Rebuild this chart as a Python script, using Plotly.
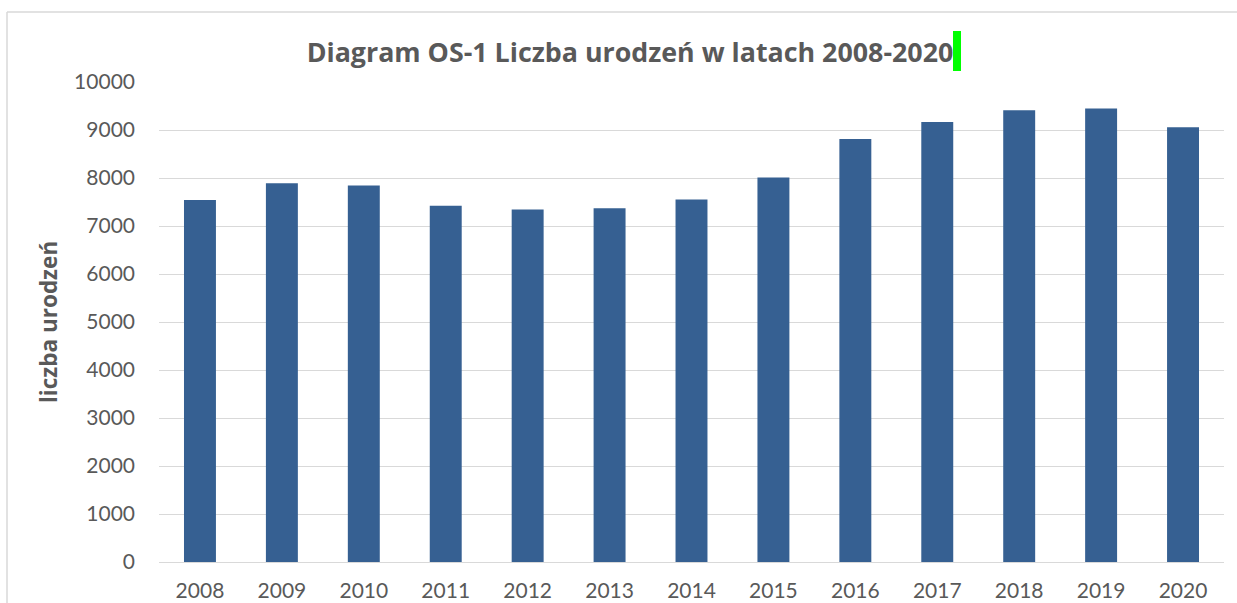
import plotly.graph_objects as go

years = ["2008", "2009", "2010", "2011", "2012", "2013", "2014",
         "2015", "2016", "2017", "2018", "2019", "2020"]
births = [7540, 7890, 7845, 7420, 7345, 7370, 7550,
          8010, 8810, 9165, 9410, 9450, 9055]
y_ticks = [0, 1000, 2000, 3000, 4000, 5000, 6000, 7000, 8000, 9000, 10000]

title_text = "Diagram OS-1 Liczba urodzeń w latach 2008-2020"
y_title = "liczba urodzeń"

W, H = 1237, 603
L, R, T, B = 159, 13, 82, 41
TICKFONT = "Lato"
BOLDFONT = "Open Sans"
GRAY = "#595959"
BAR = "#366092"

pw = W - L - R
ph = H - T - B


def px_x(x):
    return (x - L) / pw


def px_y(y):
    return (H - B - y) / ph


fig = go.Figure()
fig.add_trace(go.Bar(x=years, y=births, marker=dict(color=BAR, line=dict(width=0)),
                     hoverinfo="x+y"))

fig.update_layout(
    width=W, height=H,
    margin=dict(l=L, r=R, t=T, b=B),
    paper_bgcolor="white", plot_bgcolor="white",
    bargap=0.61,
    showlegend=False,
    font=dict(family=TICKFONT, color=GRAY, size=21),
    title=dict(text="<b>" + title_text + "</b>", x=630 / W, xanchor="center",
               y=1 - 53 / H, yanchor="middle", yref="container",
               font=dict(family=BOLDFONT, size=26.8, color=GRAY)),
    xaxis=dict(type="category", showgrid=False, showline=False, ticks="",
               automargin=False,
               tickfont=dict(size=21, color=GRAY), ticklabelstandoff=14),
    yaxis=dict(range=[0, 10000], tickvals=y_ticks, tickformat="d", showgrid=True,
               automargin=False,
               gridcolor="#d9d9d9", gridwidth=1.3, zeroline=True,
               zerolinecolor="#d9d9d9", zerolinewidth=1.3, showline=False,
               ticks="", tickfont=dict(size=21, color=GRAY), ticklabelstandoff=23),
    annotations=[
        dict(text="<b>" + y_title + "</b>", textangle=-90, showarrow=False,
             xref="paper", yref="paper", x=px_x(48), y=px_y(322),
             xanchor="center", yanchor="middle",
             font=dict(family=BOLDFONT, size=22.5, color=GRAY)),
    ],
    shapes=[
        # chart-area border (top and left visible)
        dict(type="line", xref="paper", yref="paper", x0=px_x(7), x1=px_x(W),
             y0=px_y(12), y1=px_y(12), line=dict(color="#d9d9d9", width=1.5)),
        dict(type="line", xref="paper", yref="paper", x0=px_x(7), x1=px_x(7),
             y0=px_y(12), y1=px_y(H), line=dict(color="#d9d9d9", width=1.5)),
        # green text-cursor marker after title
        dict(type="rect", xref="paper", yref="paper", x0=px_x(953), x1=px_x(961),
             y0=px_y(71), y1=px_y(31), fillcolor="#00ff00", line=dict(width=0)),
    ],
)

fig.write_html("out.html", config={"displayModeBar": False},
               post_script="document.body.style.margin='0';"
                           "document.body.style.overflow='hidden';")
